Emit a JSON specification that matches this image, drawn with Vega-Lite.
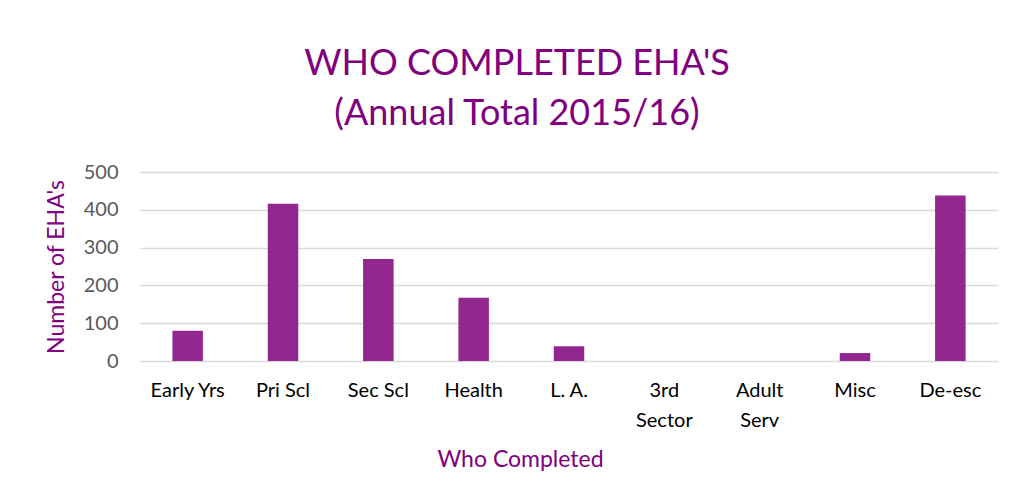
{
  "$schema": "https://vega.github.io/schema/vega-lite/v6.json",
  "autosize": {"type": "none"},
  "width": 858,
  "height": 189,
  "padding": {"left": 140, "top": 172, "right": 15, "bottom": 142},
  "background": "white",
  "title": {
    "text": ["WHO COMPLETED EHA'S", "(Annual Total 2015/16)"],
    "anchor": "middle",
    "dx": -52,
    "offset": 29,
    "font": "Lato",
    "fontSize": 36,
    "fontWeight": "normal",
    "color": "#800080",
    "lineHeight": 50
  },
  "data": {
    "values": [
      {"who": "Early Yrs", "n": 80},
      {"who": "Pri Scl", "n": 416},
      {"who": "Sec Scl", "n": 270},
      {"who": "Health", "n": 167},
      {"who": "L. A.", "n": 39},
      {"who": "3rd Sector", "n": 0},
      {"who": "Adult Serv", "n": 0},
      {"who": "Misc", "n": 21},
      {"who": "De-esc", "n": 438}
    ]
  },
  "mark": {"type": "bar", "color": "#92278F"},
  "encoding": {
    "x": {
      "field": "who",
      "type": "nominal",
      "sort": null,
      "scale": {"paddingInner": 0.68, "paddingOuter": 0.34},
      "axis": {
        "title": "Who Completed",
        "titleFont": "Lato",
        "titleFontSize": 23,
        "titleFontWeight": "normal",
        "titleColor": "#800080",
        "titleX": 380,
        "titlePadding": 18,
        "labelAngle": 0,
        "labelFont": "Lato",
        "labelFontSize": 20,
        "labelColor": "#000000",
        "labelPadding": 19,
        "labelLineHeight": 30,
        "labelExpr": "datum.label == '3rd Sector' ? ['3rd', 'Sector'] : datum.label == 'Adult Serv' ? ['Adult', 'Serv'] : datum.label",
        "ticks": false,
        "domain": false,
        "grid": false
      }
    },
    "y": {
      "field": "n",
      "type": "quantitative",
      "scale": {"domain": [0, 500]},
      "axis": {
        "title": "Number of EHA's",
        "titleFont": "Lato",
        "titleFontSize": 23,
        "titleFontWeight": "normal",
        "titleColor": "#800080",
        "titlePadding": 15,
        "values": [0, 100, 200, 300, 400, 500],
        "labelFont": "Lato",
        "labelFontSize": 20,
        "labelColor": "#595959",
        "labelPadding": 22,
        "ticks": false,
        "domain": false,
        "grid": true,
        "gridColor": "#d9d9d9",
        "gridWidth": 1.5
      }
    }
  },
  "config": {"view": {"stroke": null}}
}
